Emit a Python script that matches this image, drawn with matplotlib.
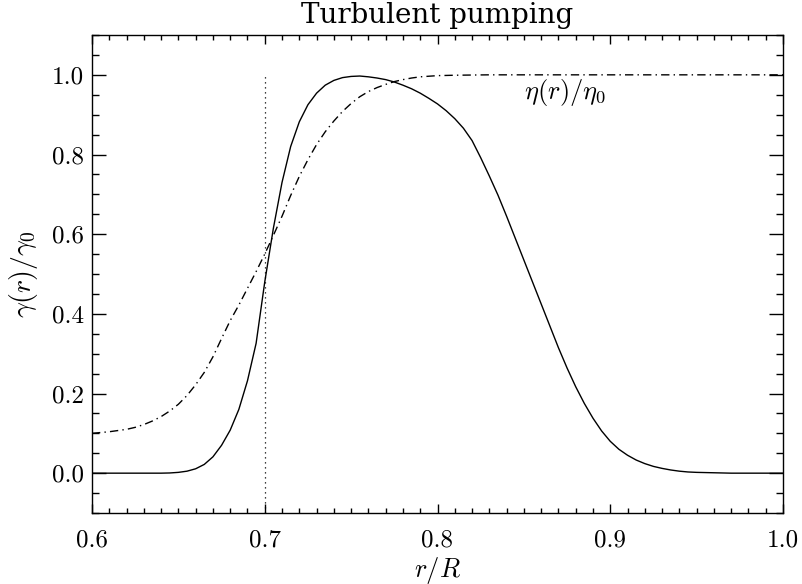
import matplotlib
matplotlib.use("Agg")
import matplotlib.pyplot as plt
from matplotlib.ticker import MultipleLocator, FormatStrFormatter

plt.rcParams["mathtext.fontset"] = "cm"

# gamma(r)/gamma0 (solid), values
gamma_r = [0.600, 0.640, 0.645, 0.650, 0.655, 0.660, 0.665, 0.670, 0.675, 0.680,
           0.685, 0.690, 0.695, 0.700, 0.705, 0.710, 0.715, 0.720, 0.725, 0.730,
           0.735, 0.740, 0.745, 0.750, 0.755, 0.760, 0.765, 0.770, 0.775, 0.780,
           0.785, 0.790, 0.795, 0.800, 0.805, 0.810, 0.815, 0.820, 0.825, 0.830,
           0.835, 0.840, 0.845, 0.850, 0.855, 0.860, 0.865, 0.870, 0.875, 0.880,
           0.885, 0.890, 0.895, 0.900, 0.905, 0.910, 0.915, 0.920, 0.925, 0.930,
           0.935, 0.940, 0.945, 0.950, 0.960, 0.970, 1.000]
gamma_v = [0.000, 0.000, 0.0005, 0.002, 0.005, 0.011, 0.022, 0.041, 0.070, 0.108,
           0.160, 0.232, 0.326, 0.480, 0.615, 0.730, 0.820, 0.882, 0.925, 0.954,
           0.974, 0.986, 0.993, 0.996, 0.997, 0.995, 0.992, 0.988, 0.982, 0.974,
           0.965, 0.954, 0.941, 0.927, 0.910, 0.890, 0.866, 0.835, 0.792, 0.746,
           0.698, 0.645, 0.590, 0.535, 0.480, 0.425, 0.370, 0.315, 0.264, 0.217,
           0.175, 0.138, 0.106, 0.080, 0.060, 0.045, 0.033, 0.024, 0.017, 0.012,
           0.008, 0.005, 0.003, 0.002, 0.001, 0.000, 0.000]

# eta(r)/eta0 (dash-dot)
eta_r = [0.600, 0.605, 0.610, 0.615, 0.620, 0.625, 0.630, 0.635, 0.640, 0.645,
         0.650, 0.655, 0.660, 0.665, 0.670, 0.675, 0.680, 0.685, 0.690, 0.695,
         0.700, 0.705, 0.710, 0.715, 0.720, 0.725, 0.730, 0.735, 0.740, 0.745,
         0.750, 0.755, 0.760, 0.765, 0.770, 0.775, 0.780, 0.785, 0.790, 0.800,
         0.810, 0.830, 1.000]
eta_v = [0.100, 0.102, 0.104, 0.107, 0.110, 0.115, 0.122, 0.131, 0.142, 0.156,
         0.173, 0.195, 0.222, 0.253, 0.292, 0.338, 0.383, 0.422, 0.464, 0.506,
         0.550, 0.597, 0.645, 0.697, 0.745, 0.787, 0.825, 0.857, 0.884, 0.908,
         0.928, 0.945, 0.958, 0.968, 0.976, 0.983, 0.988, 0.992, 0.995, 0.998,
         0.999, 1.000, 1.000]

r_base = 0.7
x_ticks = [0.6, 0.7, 0.8, 0.9, 1.0]
y_ticks = [0.0, 0.2, 0.4, 0.6, 0.8, 1.0]

fig = plt.figure(figsize=(8.02, 5.84), dpi=100)
ax = fig.add_axes([92 / 802, 1 - 513 / 584, (783 - 92) / 802, (513 - 35) / 584])

ax.plot(gamma_r, gamma_v, color="black", lw=1.0)
ax.plot(eta_r, eta_v, color="black", lw=1.0, linestyle=(0, (6, 3, 1, 3)))
ax.plot([r_base, r_base], [-0.1, 1.0], color="black", lw=0.9, linestyle=(0, (1, 3)))

ax.set_xlim(0.6, 1.0)
ax.set_ylim(-0.1, 1.1)
ax.set_xticks(x_ticks)
ax.set_yticks(y_ticks)
ax.xaxis.set_minor_locator(MultipleLocator(0.01))
ax.yaxis.set_minor_locator(MultipleLocator(0.05))
ax.xaxis.set_major_formatter(FormatStrFormatter("%.1f"))
ax.yaxis.set_major_formatter(FormatStrFormatter("%.1f"))

ax.tick_params(which="both", direction="in", top=True, right=True, width=1.0)
ax.tick_params(axis="x", which="major", length=6.5, pad=12)
ax.tick_params(axis="x", which="minor", length=3.6)
ax.tick_params(axis="y", which="major", length=10, pad=6)
ax.tick_params(axis="y", which="minor", length=5)
for lab in ax.get_xticklabels() + ax.get_yticklabels():
    lab.set_family("cmr10")
    lab.set_fontsize(18)
for sp in ax.spines.values():
    sp.set_linewidth(1.0)

ax.set_xlabel(r"$r/R$", fontsize=19, labelpad=2)
ax.set_ylabel(r"$\gamma(r)/\gamma_0$", fontsize=20, labelpad=8)
ax.text(0.85, 0.955, r"$\eta(r)/\eta_0$", fontsize=19, va="center", ha="left")
ax.text(0.5, 1.025, "Turbulent pumping", transform=ax.transAxes, ha="center",
        va="baseline", fontsize=20, family="DejaVu Serif")

fig.savefig("out.png", dpi=100)
